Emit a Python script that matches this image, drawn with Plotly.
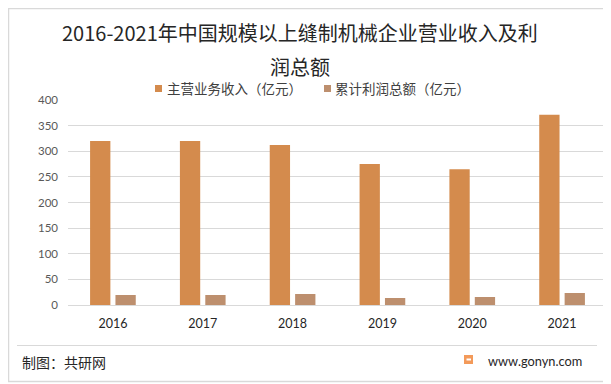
import plotly.graph_objects as go

years = ["2016", "2017", "2018", "2019", "2020", "2021"]
revenue = [320, 320, 312, 275, 265, 371]
profit = [19.5, 19.5, 21.5, 13.7, 15.6, 23.4]
series_names = ["主营业务收入（亿元）", "累计利润总额（亿元）"]
colors = ["#D48B4D", "#BD8F6E"]
title_lines = ["2016-2021年中国规模以上缝制机械企业营业收入及利", "润总额"]
y_ticks = [0, 50, 100, 150, 200, 250, 300, 350, 400]

# page offset (browser body margin)
O = 8
W, H = 611 - O, 384 - O
L, R, T, B = 68 - O, 4, 100 - O, 79
pw, ph = W - L - R, H - T - B


def px(x):
    # x given in page pixel coordinates
    return (x - O - L) / pw


def py(y):
    return (H - B - (y - O)) / ph


cjk = "Noto Sans CJK SC"
num = "Lato, Noto Sans CJK SC"

fig = go.Figure()
fig.add_trace(go.Bar(x=years, y=revenue, name=series_names[0], marker_color=colors[0],
                     marker_line_width=0, showlegend=False))
fig.add_trace(go.Bar(x=years, y=profit, name=series_names[1], marker_color=colors[1],
                     marker_line_width=0, showlegend=False))

annotations = []
for line, yy in zip(title_lines, [33, 66]):
    annotations.append(dict(text=line, x=px(300), y=py(yy), xref="paper", yref="paper",
                            xanchor="center", yanchor="middle", showarrow=False,
                            font=dict(family=cjk, size=20, color="#262626")))

# manual legend
shapes = []
leg = [(155, 165, series_names[0], colors[0]), (324, 333, series_names[1], colors[1])]
for sx, tx, name, c in leg:
    shapes.append(dict(type="rect", xref="paper", yref="paper",
                       x0=px(sx), x1=px(sx + 7), y0=py(85), y1=py(92),
                       fillcolor=c, line=dict(width=0)))
    annotations.append(dict(text=name, x=px(tx), y=py(88.5), xref="paper", yref="paper",
                            xanchor="left", yanchor="middle", showarrow=False,
                            font=dict(family=cjk, size=13.5, color="#404040")))

# footer
annotations.append(dict(text="制图：共研网", x=px(20), y=py(362), xref="paper", yref="paper",
                        xanchor="left", yanchor="middle", showarrow=False,
                        font=dict(family=cjk, size=14, color="#262626")))
annotations.append(dict(text="www.gonyn.com", x=px(486), y=py(361), xref="paper", yref="paper",
                        xanchor="left", yanchor="middle", showarrow=False,
                        font=dict(family=num, size=12.8, color="#262626")))

# separator line
shapes.append(dict(type="line", xref="paper", yref="paper", x0=px(17), x1=px(597),
                   y0=py(345.5), y1=py(345.5), line=dict(color="#D9D9D9", width=1)))
# logo
shapes.append(dict(type="rect", xref="paper", yref="paper", x0=px(464), x1=px(473),
                   y0=py(355), y1=py(364), fillcolor="#F39A5A", line=dict(width=0)))
shapes.append(dict(type="rect", xref="paper", yref="paper", x0=px(466.5), x1=px(471),
                   y0=py(358.5), y1=py(360.5), fillcolor="#FFFFFF", line=dict(width=0)))
# outer border (right and bottom visible)
shapes.append(dict(type="rect", xref="paper", yref="paper", x0=px(8.5), x1=px(608),
                   y0=py(381.5), y1=py(8.5), line=dict(color="#D9D9D9", width=1.5),
                   fillcolor="rgba(0,0,0,0)", layer="below"))

fig.update_layout(
    width=W, height=H,
    margin=dict(l=L, r=R, t=T, b=B, pad=0),
    paper_bgcolor="white", plot_bgcolor="white",
    barmode="group", bargap=0.435, bargroupgap=0.2,
    annotations=annotations, shapes=shapes,
    showlegend=False,
)
fig.update_xaxes(type="category", showgrid=False, showline=True, linecolor="#D9D9D9",
                 linewidth=1, ticks="", tickfont=dict(family=num, size=12.5, color="#262626"),
                 ticklabelstandoff=7)
fig.update_yaxes(range=[0, 400], tickvals=y_ticks, showgrid=True, gridcolor="#D9D9D9",
                 gridwidth=1, zeroline=False, showline=False, ticks="",
                 tickfont=dict(family=num, size=11.5, color="#595959"), ticklabelstandoff=9)

fig.write_html("out.html")
